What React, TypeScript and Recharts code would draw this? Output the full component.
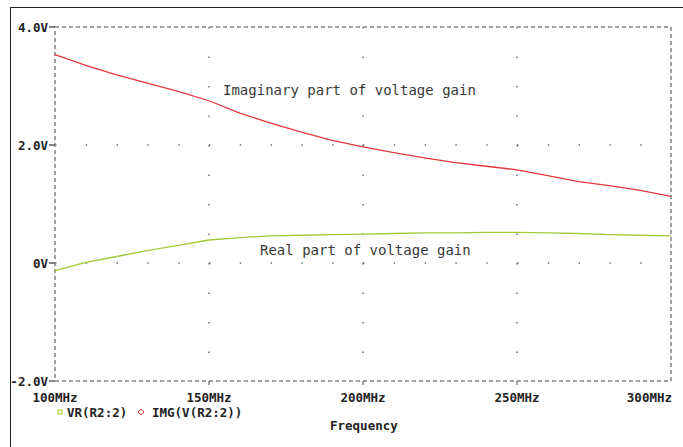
import { CartesianGrid, Line, LineChart, ReferenceArea, XAxis, YAxis } from "recharts";

const frequencies = [100, 110, 120, 130, 140, 150, 160, 170, 180, 190, 200, 210, 220, 230, 240, 250, 260, 270, 280, 290, 300];
const imaginaryGain = [3.53, 3.35, 3.19, 3.05, 2.91, 2.75, 2.54, 2.37, 2.22, 2.08, 1.97, 1.87, 1.78, 1.7, 1.64, 1.58, 1.48, 1.38, 1.31, 1.23, 1.13];
const realGain = [-0.13, 0.01, 0.11, 0.21, 0.3, 0.39, 0.43, 0.46, 0.47, 0.48, 0.49, 0.5, 0.51, 0.51, 0.52, 0.52, 0.51, 0.5, 0.48, 0.47, 0.46];

const xTicks = [100, 150, 200, 250, 300];
const yTicks = [-2, 0, 2, 4];
const yTickLabels: Record<number, string> = { 4: "4.0V", 2: "2.0V", 0: "0V", [-2]: "-2.0V" };

const data = frequencies.map((f, i) => ({ f, img: imaginaryGain[i], vr: realGain[i] }));

const mono = "'DejaVu Sans Mono', 'Liberation Mono', monospace";
const RED = "#e4393c";
const GREEN = "#a3c83a";

function XTick(props: any) {
  const { x, payload } = props;
  const v = payload.value;
  const anchor = v === 300 ? "end" : "middle";
  const tx = v === 300 ? x + 1 : x;
  return (
    <g>
      {v !== 100 && v !== 300 && <line x1={x} x2={x} y1={381} y2={385} stroke="#444" strokeWidth={1} />}
      <text x={tx} y={397} textAnchor={anchor} dominantBaseline="central" fontFamily={mono} fontWeight="bold" fontSize={12.5} fill="#222">
        {v}MHz
      </text>
    </g>
  );
}

function YTick(props: any) {
  const { y, payload } = props;
  return (
    <g>
      <line x1={49} x2={55} y1={y} y2={y} stroke="#333" strokeWidth={1.2} />
      <text x={48} y={y} textAnchor="end" dominantBaseline="central" fontFamily={mono} fontWeight="bold" fontSize={12.5} fill="#222">
        {yTickLabels[payload.value]}
      </text>
    </g>
  );
}

export default function App() {
  return (
    <div style={{ position: "fixed", left: 0, top: 0, width: 683, height: 447, background: "#fff" }}>
      <div style={{ position: "absolute", left: 10, top: 7, right: 0, bottom: 0, borderTop: "1.5px solid #222", borderLeft: "1.5px solid #222" }} />
      <LineChart width={683} height={447} data={data} margin={{ top: 27, right: 12, bottom: 0, left: 0 }}>
        <CartesianGrid horizontal vertical={false} horizontalValues={[0, 2]} stroke="#666" strokeWidth={1.4} strokeDasharray="1.4 29.4" />
        <CartesianGrid horizontal={false} vertical verticalValues={[150, 200, 250]} stroke="#666" strokeWidth={1.4} strokeDasharray="1.4 28.1" />
        <XAxis dataKey="f" type="number" domain={[100, 300]} ticks={xTicks} height={66} axisLine={false} tickLine={false} tick={<XTick />} interval={0} />
        <YAxis type="number" domain={[-2, 4]} ticks={yTicks} width={55} axisLine={false} tickLine={false} tick={<YTick />} interval={0} />
        <ReferenceArea x1={100} x2={300} y1={-2} y2={4} fill="none" stroke="#a0a0a0" strokeWidth={2} strokeDasharray="4 3" />
        <Line type="linear" dataKey="img" stroke={RED} strokeWidth={1.3} dot={false} isAnimationActive={false} />
        <Line type="linear" dataKey="vr" stroke={GREEN} strokeWidth={1.3} dot={false} isAnimationActive={false} />
      </LineChart>
      <div style={{ position: "absolute", left: 223, top: 82, fontFamily: mono, fontSize: 14, color: "#3a3a3a", whiteSpace: "pre", lineHeight: "16px" }}>
        Imaginary part of voltage gain
      </div>
      <div style={{ position: "absolute", left: 260, top: 242, fontFamily: mono, fontSize: 14, color: "#3a3a3a", whiteSpace: "pre", lineHeight: "16px" }}>
        Real part of voltage gain
      </div>
      <svg style={{ position: "absolute", left: 0, top: 0 }} width={683} height={447}>
        <rect x={58} y={410} width={4} height={4} fill="none" stroke={GREEN} strokeWidth={1} />
        <text x={67} y={412} dominantBaseline="central" fontFamily={mono} fontWeight="bold" fontSize={12.5} fill="#222">VR(R2:2)</text>
        <path d="M141 409 L144 412 L141 415 L138 412 Z" fill="none" stroke={RED} strokeWidth={1} />
        <text x={152} y={412} dominantBaseline="central" fontFamily={mono} fontWeight="bold" fontSize={12.5} fill="#222">IMG(V(R2:2))</text>
        <text x={330} y={425} dominantBaseline="central" fontFamily={mono} fontWeight="bold" fontSize={12.5} fill="#222">Frequency</text>
      </svg>
    </div>
  );
}
